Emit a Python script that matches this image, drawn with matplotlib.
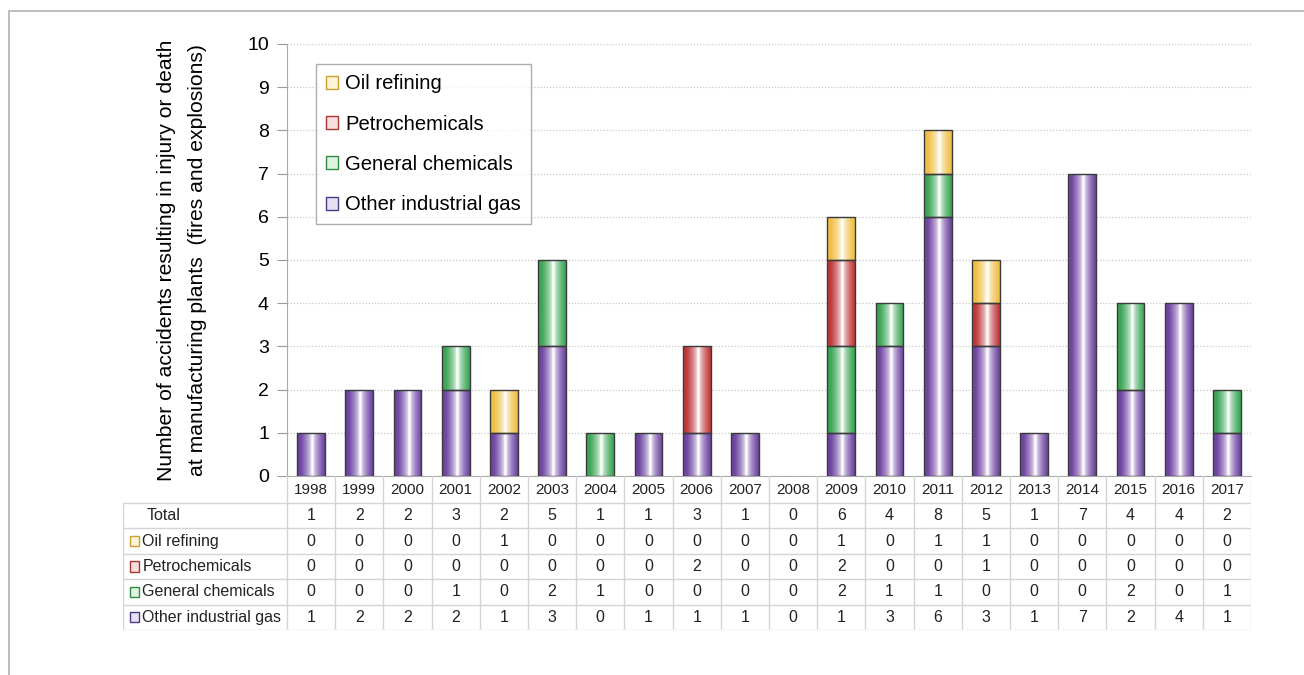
import numpy as np
import matplotlib.pyplot as plt
from matplotlib.patches import Rectangle, Patch
from matplotlib.colors import to_rgb

plt.rcParams['font.family'] = 'Liberation Sans'

# dados
years = ['1998', '1999', '2000', '2001', '2002', '2003', '2004', '2005', '2006', '2007',
         '2008', '2009', '2010', '2011', '2012', '2013', '2014', '2015', '2016', '2017']
other_gas = [1, 2, 2, 2, 1, 3, 0, 1, 1, 1, 0, 1, 3, 6, 3, 1, 7, 2, 4, 1]
general_chem = [0, 0, 0, 1, 0, 2, 1, 0, 0, 0, 0, 2, 1, 1, 0, 0, 0, 2, 0, 1]
petrochem = [0, 0, 0, 0, 0, 0, 0, 0, 2, 0, 0, 2, 0, 0, 1, 0, 0, 0, 0, 0]
oil_refining = [0, 0, 0, 0, 1, 0, 0, 0, 0, 0, 0, 1, 0, 1, 1, 0, 0, 0, 0, 0]

series = [('Other industrial gas', other_gas, '#6f45a3'),
          ('General chemicals', general_chem, '#3aa655'),
          ('Petrochemicals', petrochem, '#c0393b'),
          ('Oil refining', oil_refining, '#f0bf45')]

W, H = 1304, 675
fig = plt.figure(figsize=(W / 100, H / 100), dpi=100)

# moldura cinza
fig.patches.append(Rectangle((9 / W, -0.1), 1.2, 1 - 11 / H + 0.1, transform=fig.transFigure,
                             fill=False, edgecolor='#b0b0b0', lw=1.2))

x0, x1 = 287, 1251
ytop, ybot = 44, 476
ax = fig.add_axes([x0 / W, 1 - ybot / H, (x1 - x0) / W, (ybot - ytop) / H])

x = np.arange(len(years))


def gradient(col):
    t = np.linspace(0, 1, 80)
    w = np.clip((np.abs(t - 0.55) / 0.5 - 0.05) / 0.8, 0, 1) ** 0.6
    c = np.array(to_rgb(col))
    img = (1 - w[:, None]) * 1.0 + w[:, None] * c[None, :]
    return img[None, :, :]


bottom = np.zeros(len(years))
for name, vals, col in series:
    vals = np.array(vals)
    bars = ax.bar(x, vals, 0.58, bottom=bottom, facecolor='none', edgecolor='#3a3a3a',
                  linewidth=1.0, zorder=3)
    img = gradient(col)
    for b, v in zip(bars, vals):
        if v == 0:
            b.set_visible(False)
            continue
        bx, by = b.get_x(), b.get_y()
        im = ax.imshow(img, extent=[bx, bx + b.get_width(), by, by + b.get_height()],
                       aspect='auto', zorder=2, interpolation='bilinear')
        im.set_clip_path(b)
    bottom += vals

ax.set_xlim(-0.5, len(years) - 0.5)
ax.set_ylim(0, 10)
ax.set_yticks(range(0, 11))
ax.tick_params(axis='y', labelsize=14, length=7, color='#999999', pad=6, direction='out')
ax.set_xticks([])
for s in ['top', 'right']:
    ax.spines[s].set_visible(False)
ax.spines['left'].set_color('#aaaaaa')
ax.spines['bottom'].set_color('#aaaaaa')
ax.grid(axis='y', linestyle=(0, (1, 1.5)), color='#c8c8c8', linewidth=0.9, zorder=0)
ax.set_axisbelow(True)

handles = [Patch(facecolor='#fdf3d6', edgecolor='#c9a030', label='Oil refining'),
           Patch(facecolor='#f7dede', edgecolor='#a83434', label='Petrochemicals'),
           Patch(facecolor='#def3e2', edgecolor='#2f8a46', label='General chemicals'),
           Patch(facecolor='#e6e0f2', edgecolor='#4a3a80', label='Other industrial gas')]
leg = ax.legend(handles=handles, loc='upper left', bbox_to_anchor=(0.03, 0.953), fontsize=14.6,
                frameon=True, fancybox=False, edgecolor='#999999', handlelength=0.6,
                handleheight=0.6, handletextpad=0.35, labelspacing=1.05, borderpad=0.5,
                borderaxespad=0)
leg.get_frame().set_linewidth(1.0)

fig.text(182 / W, 1 - 260 / H,
         'Number of accidents resulting in injury or death\nat manufacturing plants  (fires and explosions)',
         rotation=90, ha='center', va='center', multialignment='center', fontsize=15.2,
         linespacing=1.75)

# tabela
tl, tr = 123, 1251
t_top, t_mid, t_bot = 476, 503, 630
tab = fig.add_axes([tl / W, 1 - t_bot / H, (tr - tl) / W, (t_bot - t_top) / H])
lab_w = (x0 - tl) / ((x1 - x0) / len(years))
tab.set_xlim(-0.5 - lab_w, len(years) - 0.5)
row_h = (t_mid - t_top) / ((t_bot - t_mid) / 5)
tab.set_ylim(0, 5 + row_h)
tab.axis('off')

grid_c = '#d4d4d4'
# linhas horizontais
for r in range(6):
    tab.plot([-0.5 - lab_w, len(years) - 0.5], [r, r], color=grid_c, lw=1)
# linhas verticais
for i in range(len(years) + 1):
    tab.plot([i - 0.5, i - 0.5], [0, 5 + row_h], color=grid_c, lw=1)
tab.plot([-0.5 - lab_w, -0.5 - lab_w], [0, 5], color=grid_c, lw=1)

for i, yr in enumerate(years):
    tab.text(i, 5 + row_h / 2, yr, ha='center', va='center', fontsize=11, color='#222222')

totals = np.array(other_gas) + np.array(general_chem) + np.array(petrochem) + np.array(oil_refining)
rows = [('Total', totals, None),
        ('Oil refining', oil_refining, handles[0]),
        ('Petrochemicals', petrochem, handles[1]),
        ('General chemicals', general_chem, handles[2]),
        ('Other industrial gas', other_gas, handles[3])]
sq = 0.2
for r, (name, vals, h) in enumerate(rows):
    yc = 4.5 - r
    if h is None:
        tab.text(-0.5 - lab_w + 0.48, yc, name, ha='left', va='center', fontsize=11.5, color='#222222')
    else:
        tab.add_patch(Rectangle((-0.5 - lab_w + 0.14, yc - 0.2), sq, 0.4,
                                facecolor=h.get_facecolor(), edgecolor=h.get_edgecolor(), lw=1))
        tab.text(-0.5 - lab_w + 0.4, yc, name, ha='left', va='center', fontsize=11.5, color='#222222')
    for i, v in enumerate(vals):
        tab.text(i, yc, str(v), ha='center', va='center', fontsize=11.5, color='#222222')

fig.savefig('out.png', dpi=100)
